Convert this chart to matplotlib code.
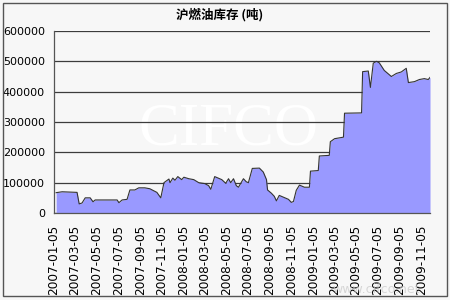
import matplotlib

matplotlib.use("Agg")
import matplotlib.dates as mdates
import matplotlib.pyplot as plt
import pandas as pd
from matplotlib.patches import Rectangle

PAPER = "#F7F7F7"
FILL = "#9999FF"
EDGE = "#333333"
GRID = "#3C3C3C"
AXIS = "#555555"

# weekly-ish stock readings (tonnes)
dates = [
    "2007-01-11", "2007-01-28", "2007-03-11", "2007-03-17", "2007-03-25", "2007-04-03",
    "2007-04-17", "2007-04-25", "2007-05-01", "2007-07-02", "2007-07-07", "2007-07-16",
    "2007-07-30", "2007-08-07", "2007-08-21", "2007-09-01", "2007-09-18", "2007-10-02",
    "2007-10-22", "2007-11-02", "2007-11-11", "2007-11-25", "2007-11-28", "2007-12-06",
    "2007-12-12", "2007-12-20", "2007-12-31", "2008-01-06", "2008-01-20", "2008-02-03",
    "2008-02-17", "2008-03-05", "2008-03-16", "2008-03-22", "2008-04-02", "2008-04-22",
    "2008-05-03", "2008-05-11", "2008-05-17", "2008-05-25", "2008-06-02", "2008-06-08",
    "2008-06-22", "2008-06-30", "2008-07-06", "2008-07-17", "2008-08-06", "2008-08-17",
    "2008-08-26", "2008-08-29", "2008-09-09", "2008-09-17", "2008-09-23", "2008-10-01",
    "2008-10-13", "2008-10-27", "2008-11-04", "2008-11-10", "2008-11-18", "2008-11-27",
    "2008-12-11", "2008-12-25", "2008-12-28", "2009-01-19", "2009-01-22", "2009-02-19",
    "2009-02-22", "2009-03-06", "2009-03-31", "2009-04-03", "2009-05-21", "2009-05-24",
    "2009-06-09", "2009-06-15", "2009-06-23", "2009-07-02", "2009-07-10", "2009-07-24",
    "2009-08-13", "2009-08-27", "2009-09-10", "2009-09-24", "2009-09-30", "2009-10-17",
    "2009-10-31", "2009-11-14", "2009-11-25", "2009-11-30",
]
stock = [
    67000, 70000, 68000, 30000, 33000, 50000,
    50000, 37000, 43000, 43000, 34000, 43000,
    45000, 76000, 76000, 83000, 83000, 80000,
    68000, 50000, 100000, 112000, 100000, 115000,
    108000, 120000, 110000, 118000, 113000, 110000,
    100000, 97000, 90000, 78000, 120000, 110000,
    98000, 113000, 100000, 113000, 90000, 85000,
    113000, 103000, 100000, 147000, 148000, 135000,
    110000, 76000, 65000, 55000, 40000, 58000,
    52000, 45000, 35000, 38000, 75000, 92000,
    85000, 85000, 138000, 140000, 188000, 190000,
    235000, 245000, 250000, 329000, 330000, 466000,
    468000, 414000, 494000, 500000, 495000, 470000,
    450000, 460000, 465000, 477000, 430000, 433000,
    440000, 443000, 440000, 447000,
]
label_dates = [
    "2007-01-05", "2007-03-05", "2007-05-05", "2007-07-05", "2007-09-05", "2007-11-05",
    "2008-01-05", "2008-03-05", "2008-05-05", "2008-07-05", "2008-09-05", "2008-11-05",
    "2009-01-05", "2009-03-05", "2009-05-05", "2009-07-05", "2009-09-05", "2009-11-05",
]
y_ticks = [0, 100000, 200000, 300000, 400000, 500000, 600000]

x = pd.to_datetime(dates)
x_labels = pd.to_datetime(label_dates)

plt.rcParams["font.family"] = ["DejaVu Sans"]
fig = plt.figure(figsize=(4.5, 3), dpi=100, facecolor=PAPER)
ax = fig.add_axes([0.12, 0.29, 0.8356, 0.6067], facecolor=PAPER)

ax.fill_between(x, stock, color=FILL, linewidth=0, zorder=2)
ax.plot(x, stock, color=EDGE, linewidth=0.8, zorder=3)

ax.set_xlim(x[0], x[-1])
ax.set_ylim(0, 600000)
ax.set_yticks(y_ticks, [str(v) for v in y_ticks])
ax.yaxis.grid(True, color=GRID, linewidth=0.9)
ax.set_axisbelow(True)
ax.tick_params(axis="y", length=0, pad=6.5, labelsize=8)

# labels sit one step ahead of the tick marks, like the original export
ax.set_xticks(x_labels, label_dates, rotation=90)
ax.set_xticks(x_labels[1:], minor=True)
ax.tick_params(axis="x", which="major", length=0, pad=8.5, labelsize=8.7)
ax.tick_params(axis="x", which="minor", direction="in", length=3.5, color=EDGE)

for side in ["top", "right"]:
    ax.spines[side].set_visible(False)
for side in ["left", "bottom"]:
    ax.spines[side].set_color(AXIS)
    ax.spines[side].set_linewidth(0.9)

ax.text(0.463, 0.46, "CIFCO", transform=ax.transAxes, family="Liberation Serif",
        fontsize=44, color="white", ha="center", va="center", zorder=0.4)

fig.text(0.489, 0.952, "沪燃油库存 (吨)", family=["Noto Sans CJK SC", "DejaVu Sans"],
         fontsize=9, weight="bold", ha="center", va="center")
fig.text(0.835, 0.035, "www.cifco.net", color="#C8C8C8", fontsize=9, alpha=0.7,
         ha="center", va="center", zorder=0)

fig.patches.append(Rectangle((0.007, 0.012), 0.986, 0.978, transform=fig.transFigure,
                             fill=False, edgecolor=AXIS, linewidth=1))

fig.savefig("out.png", dpi=100, facecolor=PAPER)
